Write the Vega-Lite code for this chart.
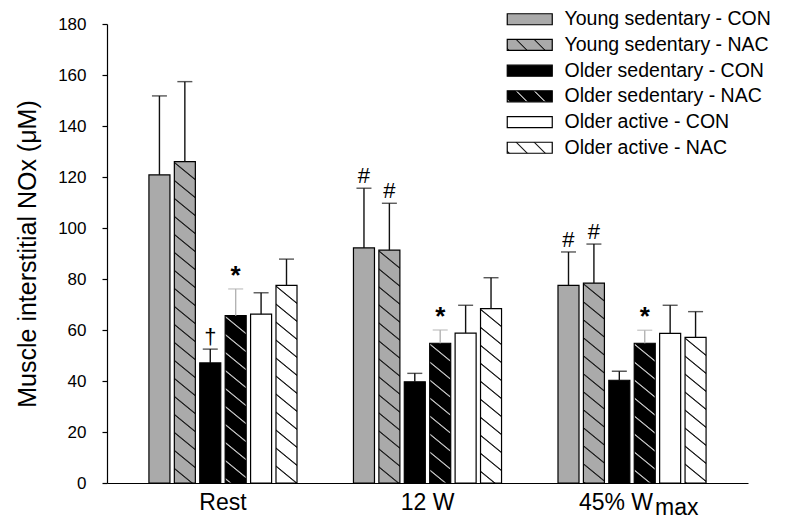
{
  "$schema": "https://vega.github.io/schema/vega-lite/v6.json",
  "width": 641,
  "height": 459,
  "autosize": {"type": "none"},
  "padding": {"left": 107, "top": 24, "right": 39, "bottom": 36},
  "background": "white",
  "config": {
    "view": {"stroke": null},
    "font": "Liberation Sans",
    "axis": {"domainColor": "black", "tickColor": "black", "labelColor": "black", "titleColor": "black", "domainWidth": 1.2, "tickWidth": 1.2, "labelFont": "Liberation Sans", "titleFont": "Liberation Sans", "grid": false}
  },
  "params": [
    {"name": "hatchGray", "value": [
      {"offset": 0, "color": "#aaa"},
      {"offset": 0.0465, "color": "#aaa"}, {"offset": 0.049, "color": "#222"}, {"offset": 0.051, "color": "#222"}, {"offset": 0.0535, "color": "#aaa"},
      {"offset": 0.0965, "color": "#aaa"}, {"offset": 0.099, "color": "#222"}, {"offset": 0.101, "color": "#222"}, {"offset": 0.1035, "color": "#aaa"},
      {"offset": 0.1465, "color": "#aaa"}, {"offset": 0.149, "color": "#222"}, {"offset": 0.151, "color": "#222"}, {"offset": 0.1535, "color": "#aaa"},
      {"offset": 0.1965, "color": "#aaa"}, {"offset": 0.199, "color": "#222"}, {"offset": 0.201, "color": "#222"}, {"offset": 0.2035, "color": "#aaa"},
      {"offset": 0.2465, "color": "#aaa"}, {"offset": 0.249, "color": "#222"}, {"offset": 0.251, "color": "#222"}, {"offset": 0.2535, "color": "#aaa"},
      {"offset": 0.2965, "color": "#aaa"}, {"offset": 0.299, "color": "#222"}, {"offset": 0.301, "color": "#222"}, {"offset": 0.3035, "color": "#aaa"},
      {"offset": 0.3465, "color": "#aaa"}, {"offset": 0.349, "color": "#222"}, {"offset": 0.351, "color": "#222"}, {"offset": 0.3535, "color": "#aaa"},
      {"offset": 0.3965, "color": "#aaa"}, {"offset": 0.399, "color": "#222"}, {"offset": 0.401, "color": "#222"}, {"offset": 0.4035, "color": "#aaa"},
      {"offset": 0.4465, "color": "#aaa"}, {"offset": 0.449, "color": "#222"}, {"offset": 0.451, "color": "#222"}, {"offset": 0.4535, "color": "#aaa"},
      {"offset": 0.4965, "color": "#aaa"}, {"offset": 0.499, "color": "#222"}, {"offset": 0.501, "color": "#222"}, {"offset": 0.5035, "color": "#aaa"},
      {"offset": 0.5465, "color": "#aaa"}, {"offset": 0.549, "color": "#222"}, {"offset": 0.551, "color": "#222"}, {"offset": 0.5535, "color": "#aaa"},
      {"offset": 0.5965, "color": "#aaa"}, {"offset": 0.599, "color": "#222"}, {"offset": 0.601, "color": "#222"}, {"offset": 0.6035, "color": "#aaa"},
      {"offset": 0.6465, "color": "#aaa"}, {"offset": 0.649, "color": "#222"}, {"offset": 0.651, "color": "#222"}, {"offset": 0.6535, "color": "#aaa"},
      {"offset": 0.6965, "color": "#aaa"}, {"offset": 0.699, "color": "#222"}, {"offset": 0.701, "color": "#222"}, {"offset": 0.7035, "color": "#aaa"},
      {"offset": 0.7465, "color": "#aaa"}, {"offset": 0.749, "color": "#222"}, {"offset": 0.751, "color": "#222"}, {"offset": 0.7535, "color": "#aaa"},
      {"offset": 0.7965, "color": "#aaa"}, {"offset": 0.799, "color": "#222"}, {"offset": 0.801, "color": "#222"}, {"offset": 0.8035, "color": "#aaa"},
      {"offset": 0.8465, "color": "#aaa"}, {"offset": 0.849, "color": "#222"}, {"offset": 0.851, "color": "#222"}, {"offset": 0.8535, "color": "#aaa"},
      {"offset": 0.8965, "color": "#aaa"}, {"offset": 0.899, "color": "#222"}, {"offset": 0.901, "color": "#222"}, {"offset": 0.9035, "color": "#aaa"},
      {"offset": 0.9465, "color": "#aaa"}, {"offset": 0.949, "color": "#222"}, {"offset": 0.951, "color": "#222"}, {"offset": 0.9535, "color": "#aaa"},
      {"offset": 1, "color": "#aaa"}
    ]},
    {"name": "hatchBlack", "value": [
      {"offset": 0, "color": "#000"},
      {"offset": 0.0465, "color": "#000"}, {"offset": 0.049, "color": "#bbb"}, {"offset": 0.051, "color": "#bbb"}, {"offset": 0.0535, "color": "#000"},
      {"offset": 0.0965, "color": "#000"}, {"offset": 0.099, "color": "#bbb"}, {"offset": 0.101, "color": "#bbb"}, {"offset": 0.1035, "color": "#000"},
      {"offset": 0.1465, "color": "#000"}, {"offset": 0.149, "color": "#bbb"}, {"offset": 0.151, "color": "#bbb"}, {"offset": 0.1535, "color": "#000"},
      {"offset": 0.1965, "color": "#000"}, {"offset": 0.199, "color": "#bbb"}, {"offset": 0.201, "color": "#bbb"}, {"offset": 0.2035, "color": "#000"},
      {"offset": 0.2465, "color": "#000"}, {"offset": 0.249, "color": "#bbb"}, {"offset": 0.251, "color": "#bbb"}, {"offset": 0.2535, "color": "#000"},
      {"offset": 0.2965, "color": "#000"}, {"offset": 0.299, "color": "#bbb"}, {"offset": 0.301, "color": "#bbb"}, {"offset": 0.3035, "color": "#000"},
      {"offset": 0.3465, "color": "#000"}, {"offset": 0.349, "color": "#bbb"}, {"offset": 0.351, "color": "#bbb"}, {"offset": 0.3535, "color": "#000"},
      {"offset": 0.3965, "color": "#000"}, {"offset": 0.399, "color": "#bbb"}, {"offset": 0.401, "color": "#bbb"}, {"offset": 0.4035, "color": "#000"},
      {"offset": 0.4465, "color": "#000"}, {"offset": 0.449, "color": "#bbb"}, {"offset": 0.451, "color": "#bbb"}, {"offset": 0.4535, "color": "#000"},
      {"offset": 0.4965, "color": "#000"}, {"offset": 0.499, "color": "#bbb"}, {"offset": 0.501, "color": "#bbb"}, {"offset": 0.5035, "color": "#000"},
      {"offset": 0.5465, "color": "#000"}, {"offset": 0.549, "color": "#bbb"}, {"offset": 0.551, "color": "#bbb"}, {"offset": 0.5535, "color": "#000"},
      {"offset": 0.5965, "color": "#000"}, {"offset": 0.599, "color": "#bbb"}, {"offset": 0.601, "color": "#bbb"}, {"offset": 0.6035, "color": "#000"},
      {"offset": 0.6465, "color": "#000"}, {"offset": 0.649, "color": "#bbb"}, {"offset": 0.651, "color": "#bbb"}, {"offset": 0.6535, "color": "#000"},
      {"offset": 0.6965, "color": "#000"}, {"offset": 0.699, "color": "#bbb"}, {"offset": 0.701, "color": "#bbb"}, {"offset": 0.7035, "color": "#000"},
      {"offset": 0.7465, "color": "#000"}, {"offset": 0.749, "color": "#bbb"}, {"offset": 0.751, "color": "#bbb"}, {"offset": 0.7535, "color": "#000"},
      {"offset": 0.7965, "color": "#000"}, {"offset": 0.799, "color": "#bbb"}, {"offset": 0.801, "color": "#bbb"}, {"offset": 0.8035, "color": "#000"},
      {"offset": 0.8465, "color": "#000"}, {"offset": 0.849, "color": "#bbb"}, {"offset": 0.851, "color": "#bbb"}, {"offset": 0.8535, "color": "#000"},
      {"offset": 0.8965, "color": "#000"}, {"offset": 0.899, "color": "#bbb"}, {"offset": 0.901, "color": "#bbb"}, {"offset": 0.9035, "color": "#000"},
      {"offset": 0.9465, "color": "#000"}, {"offset": 0.949, "color": "#bbb"}, {"offset": 0.951, "color": "#bbb"}, {"offset": 0.9535, "color": "#000"},
      {"offset": 1, "color": "#000"}
    ]},
    {"name": "hatchWhite", "value": [
      {"offset": 0, "color": "#fff"},
      {"offset": 0.0465, "color": "#fff"}, {"offset": 0.049, "color": "#222"}, {"offset": 0.051, "color": "#222"}, {"offset": 0.0535, "color": "#fff"},
      {"offset": 0.0965, "color": "#fff"}, {"offset": 0.099, "color": "#222"}, {"offset": 0.101, "color": "#222"}, {"offset": 0.1035, "color": "#fff"},
      {"offset": 0.1465, "color": "#fff"}, {"offset": 0.149, "color": "#222"}, {"offset": 0.151, "color": "#222"}, {"offset": 0.1535, "color": "#fff"},
      {"offset": 0.1965, "color": "#fff"}, {"offset": 0.199, "color": "#222"}, {"offset": 0.201, "color": "#222"}, {"offset": 0.2035, "color": "#fff"},
      {"offset": 0.2465, "color": "#fff"}, {"offset": 0.249, "color": "#222"}, {"offset": 0.251, "color": "#222"}, {"offset": 0.2535, "color": "#fff"},
      {"offset": 0.2965, "color": "#fff"}, {"offset": 0.299, "color": "#222"}, {"offset": 0.301, "color": "#222"}, {"offset": 0.3035, "color": "#fff"},
      {"offset": 0.3465, "color": "#fff"}, {"offset": 0.349, "color": "#222"}, {"offset": 0.351, "color": "#222"}, {"offset": 0.3535, "color": "#fff"},
      {"offset": 0.3965, "color": "#fff"}, {"offset": 0.399, "color": "#222"}, {"offset": 0.401, "color": "#222"}, {"offset": 0.4035, "color": "#fff"},
      {"offset": 0.4465, "color": "#fff"}, {"offset": 0.449, "color": "#222"}, {"offset": 0.451, "color": "#222"}, {"offset": 0.4535, "color": "#fff"},
      {"offset": 0.4965, "color": "#fff"}, {"offset": 0.499, "color": "#222"}, {"offset": 0.501, "color": "#222"}, {"offset": 0.5035, "color": "#fff"},
      {"offset": 0.5465, "color": "#fff"}, {"offset": 0.549, "color": "#222"}, {"offset": 0.551, "color": "#222"}, {"offset": 0.5535, "color": "#fff"},
      {"offset": 0.5965, "color": "#fff"}, {"offset": 0.599, "color": "#222"}, {"offset": 0.601, "color": "#222"}, {"offset": 0.6035, "color": "#fff"},
      {"offset": 0.6465, "color": "#fff"}, {"offset": 0.649, "color": "#222"}, {"offset": 0.651, "color": "#222"}, {"offset": 0.6535, "color": "#fff"},
      {"offset": 0.6965, "color": "#fff"}, {"offset": 0.699, "color": "#222"}, {"offset": 0.701, "color": "#222"}, {"offset": 0.7035, "color": "#fff"},
      {"offset": 0.7465, "color": "#fff"}, {"offset": 0.749, "color": "#222"}, {"offset": 0.751, "color": "#222"}, {"offset": 0.7535, "color": "#fff"},
      {"offset": 0.7965, "color": "#fff"}, {"offset": 0.799, "color": "#222"}, {"offset": 0.801, "color": "#222"}, {"offset": 0.8035, "color": "#fff"},
      {"offset": 0.8465, "color": "#fff"}, {"offset": 0.849, "color": "#222"}, {"offset": 0.851, "color": "#222"}, {"offset": 0.8535, "color": "#fff"},
      {"offset": 0.8965, "color": "#fff"}, {"offset": 0.899, "color": "#222"}, {"offset": 0.901, "color": "#222"}, {"offset": 0.9035, "color": "#fff"},
      {"offset": 0.9465, "color": "#fff"}, {"offset": 0.949, "color": "#222"}, {"offset": 0.951, "color": "#222"}, {"offset": 0.9535, "color": "#fff"},
      {"offset": 1, "color": "#fff"}
    ]}
  ],
  "datasets": {
    "bars": [
      {"group": "Rest", "series": "Young sedentary - CON", "value": 120.8, "err": 151.8, "note": ""},
      {"group": "Rest", "series": "Young sedentary - NAC", "value": 126.0, "err": 157.4, "note": ""},
      {"group": "Rest", "series": "Older sedentary - CON", "value": 47.1, "err": 52.5, "note": "†"},
      {"group": "Rest", "series": "Older sedentary - NAC", "value": 65.6, "err": 76.1, "note": "*"},
      {"group": "Rest", "series": "Older active - CON", "value": 66.2, "err": 74.6, "note": ""},
      {"group": "Rest", "series": "Older active - NAC", "value": 77.5, "err": 87.8, "note": ""},
      {"group": "12 W", "series": "Young sedentary - CON", "value": 92.2, "err": 115.6, "note": "#"},
      {"group": "12 W", "series": "Young sedentary - NAC", "value": 91.3, "err": 109.7, "note": "#"},
      {"group": "12 W", "series": "Older sedentary - CON", "value": 39.7, "err": 43.0, "note": ""},
      {"group": "12 W", "series": "Older sedentary - NAC", "value": 54.8, "err": 60.0, "note": "*"},
      {"group": "12 W", "series": "Older active - CON", "value": 58.8, "err": 69.7, "note": ""},
      {"group": "12 W", "series": "Older active - NAC", "value": 68.4, "err": 80.5, "note": ""},
      {"group": "45% Wmax", "series": "Young sedentary - CON", "value": 77.5, "err": 90.6, "note": "#"},
      {"group": "45% Wmax", "series": "Young sedentary - NAC", "value": 78.4, "err": 93.7, "note": "#"},
      {"group": "45% Wmax", "series": "Older sedentary - CON", "value": 40.3, "err": 43.8, "note": ""},
      {"group": "45% Wmax", "series": "Older sedentary - NAC", "value": 54.8, "err": 59.9, "note": "*"},
      {"group": "45% Wmax", "series": "Older active - CON", "value": 58.7, "err": 69.7, "note": ""},
      {"group": "45% Wmax", "series": "Older active - NAC", "value": 57.1, "err": 67.2, "note": ""}
    ],
    "sub": [
      {"group": "45% Wmax", "text": "max"}
    ]
  },
  "layer": [
    {
      "data": {"name": "bars"},
      "mark": {
        "type": "bar",
        "strokeWidth": 1.2,
        "fill": {"expr": "datum.series ? (indexof(datum.series,'NAC') < 0 ? (indexof(datum.series,'Young') >= 0 ? '#aaa' : (indexof(datum.series,'sedentary') >= 0 ? '#000' : '#fff')) : {gradient: 'linear', x1: 1, y1: 0, x2: 1 - 0.047833 / (0.002288 + pow(datum.value * 0.0070833, 2)), y2: (datum.value * 0.0070833) / (0.002288 + pow(datum.value * 0.0070833, 2)), stops: (indexof(datum.series,'Young') >= 0 ? hatchGray : (indexof(datum.series,'sedentary') >= 0 ? hatchBlack : hatchWhite))}) : (indexof(datum.value + '','NAC') < 0 ? (indexof(datum.value + '','Young') >= 0 ? '#aaa' : (indexof(datum.value + '','sedentary') >= 0 ? '#000' : '#fff')) : {gradient: 'linear', x1: 1, y1: 0, x2: -6.549, y2: 1.845, stops: (indexof(datum.value + '','Young') >= 0 ? hatchGray : (indexof(datum.value + '','sedentary') >= 0 ? hatchBlack : hatchWhite))})"}
      },
      "encoding": {
        "x": {
          "field": "group", "type": "nominal", "sort": ["Rest", "12 W", "45% Wmax"],
          "scale": {"paddingInner": 0.276, "paddingOuter": 0.205},
          "title": null,
          "axis": {
            "orient": "bottom",
            "ticks": false, "labelAngle": 0, "labelFontSize": 23, "labelPadding": 8, "labelBaseline": "top",
            "labelExpr": "datum.value == '45% Wmax' ? '45% W' : datum.label",
            "labelAlign": {"condition": {"test": "datum.value == '45% Wmax'", "value": "right"}, "value": "center"},
            "labelOffset": {"condition": {"test": "datum.value == '45% Wmax'", "value": 21}, "value": 0}
          }
        },
        "xOffset": {
          "field": "series", "type": "nominal",
          "sort": ["Young sedentary - CON", "Young sedentary - NAC", "Older sedentary - CON", "Older sedentary - NAC", "Older active - CON", "Older active - NAC"],
          "scale": {"paddingInner": 0.173, "paddingOuter": 0}
        },
        "y": {
          "field": "value", "type": "quantitative",
          "scale": {"domain": [0, 180], "nice": false},
          "title": "Muscle interstitial NOx (μM)",
          "axis": {"orient": "left", "values": [0, 20, 40, 60, 80, 100, 120, 140, 160, 180], "tickSize": 5, "labelFontSize": 17, "labelPadding": 16, "titleFontSize": 25, "titleFontWeight": "normal", "titlePadding": 17}
        },
        "stroke": {
          "field": "series", "type": "nominal",
          "scale": {
            "domain": ["Young sedentary - CON", "Young sedentary - NAC", "Older sedentary - CON", "Older sedentary - NAC", "Older active - CON", "Older active - NAC"],
            "range": ["#000", "#000", "#000", "#000", "#000", "#000"]
          },
          "legend": {
            "title": null, "orient": "none", "legendX": 413, "legendY": -14.5, "padding": 0,
            "symbolType": "M-4.5,-1.1H4.5V1.1H-4.5Z", "symbolSize": 100, "symbolStrokeWidth": 1.2, "symbolStrokeColor": "#000",
            "labelFontSize": 19.5, "labelFont": "Liberation Sans", "labelColor": "#000", "labelOffset": 25, "labelLimit": 400, "rowPadding": 4.7
          }
        }
      }
    },
    {
      "data": {"name": "bars"},
      "mark": {"type": "rule", "strokeWidth": 1.4, "color": {"expr": "datum.series == 'Older sedentary - NAC' ? '#b3b3b3' : '#111'"}},
      "encoding": {
        "x": {"field": "group", "type": "nominal", "sort": ["Rest", "12 W", "45% Wmax"]},
        "xOffset": {"field": "series", "type": "nominal", "sort": ["Young sedentary - CON", "Young sedentary - NAC", "Older sedentary - CON", "Older sedentary - NAC", "Older active - CON", "Older active - NAC"]},
        "y": {"field": "value", "type": "quantitative"},
        "y2": {"field": "err"}
      }
    },
    {
      "data": {"name": "bars"},
      "mark": {"type": "tick", "orient": "horizontal", "size": 15, "thickness": 1.4, "color": {"expr": "datum.series == 'Older sedentary - NAC' ? '#b3b3b3' : '#111'"}},
      "encoding": {
        "x": {"field": "group", "type": "nominal", "sort": ["Rest", "12 W", "45% Wmax"]},
        "xOffset": {"field": "series", "type": "nominal", "sort": ["Young sedentary - CON", "Young sedentary - NAC", "Older sedentary - CON", "Older sedentary - NAC", "Older active - CON", "Older active - NAC"]},
        "y": {"field": "err", "type": "quantitative"}
      }
    },
    {
      "data": {"name": "bars"},
      "transform": [{"filter": "datum.note != ''"}],
      "mark": {"type": "text", "baseline": "alphabetic", "align": "center", "dy": -5, "color": "#000", "font": "Liberation Sans",
        "fontSize": {"expr": "datum.note == '*' ? 26 : 22"},
        "fontWeight": {"expr": "datum.note == '*' ? 'bold' : 'normal'"}},
      "encoding": {
        "x": {"field": "group", "type": "nominal", "sort": ["Rest", "12 W", "45% Wmax"]},
        "xOffset": {"field": "series", "type": "nominal", "sort": ["Young sedentary - CON", "Young sedentary - NAC", "Older sedentary - CON", "Older sedentary - NAC", "Older active - CON", "Older active - NAC"]},
        "y": {"field": "err", "type": "quantitative"},
        "text": {"field": "note"}
      }
    },
    {
      "data": {"name": "sub"},
      "mark": {"type": "text", "baseline": "alphabetic", "align": "left", "dx": 23, "dy": 32, "fontSize": 23, "color": "#000", "font": "Liberation Sans"},
      "encoding": {
        "x": {"field": "group", "type": "nominal", "sort": ["Rest", "12 W", "45% Wmax"]},
        "y": {"datum": 0, "type": "quantitative"},
        "text": {"field": "text"}
      }
    }
  ]
}
